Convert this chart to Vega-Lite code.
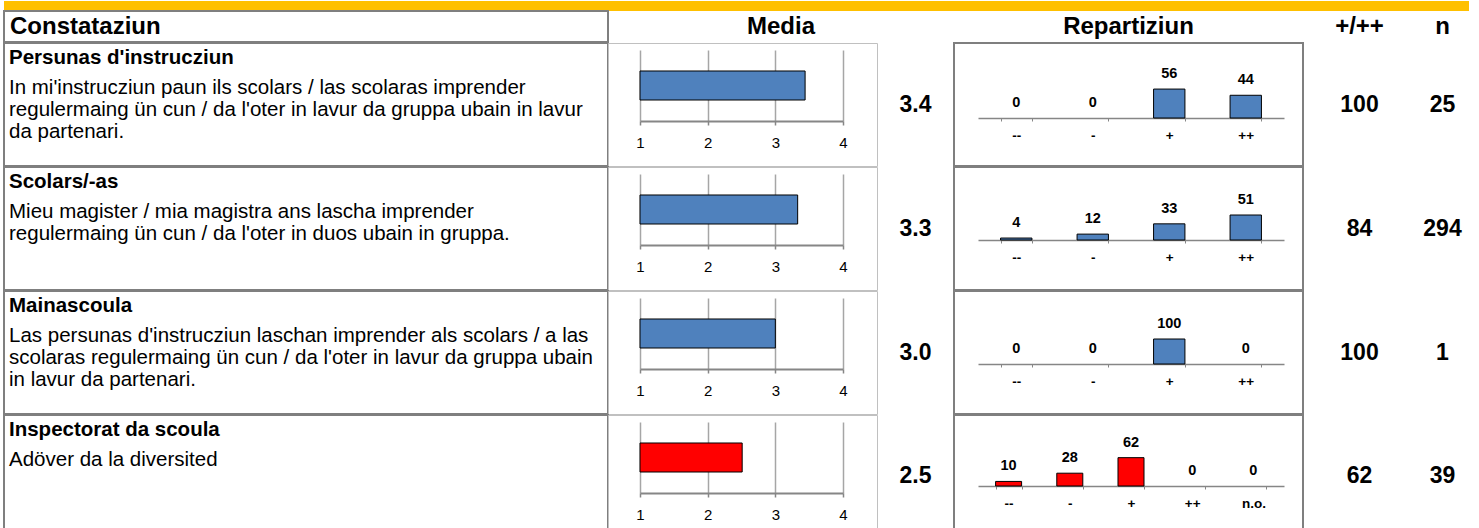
{
  "$schema": "https://vega.github.io/schema/vega-lite/v6.json",
  "padding": {"left": 3, "top": 0, "right": 0, "bottom": 0},
  "spacing": -2,
  "config": {
    "font": "Liberation Sans",
    "view": {"stroke": "#7F7F7F", "strokeWidth": 2},
    "text": {"font": "Liberation Sans", "color": "#000000"},
    "axis": {"labelFont": "Liberation Sans", "labelColor": "#000000", "title": null}
  },
  "datasets": {
    "headers": [
      {"col": "desc", "label": "Constataziun"},
      {"col": "media", "label": "Media"},
      {"col": "dist", "label": "Repartiziun"},
      {"col": "pos", "label": "+/++"},
      {"col": "n", "label": "n"}
    ],
    "lines": [
      {"row": 1, "line": 0, "text": "Persunas d'instrucziun"},
      {"row": 1, "line": 1, "text": "In mi'instrucziun paun ils scolars / las scolaras imprender"},
      {"row": 1, "line": 2, "text": "regulermaing ün cun / da l'oter in lavur da gruppa ubain in lavur"},
      {"row": 1, "line": 3, "text": "da partenari."},
      {"row": 2, "line": 0, "text": "Scolars/-as"},
      {"row": 2, "line": 1, "text": "Mieu magister / mia magistra ans lascha imprender"},
      {"row": 2, "line": 2, "text": "regulermaing ün cun / da l'oter in duos ubain in gruppa."},
      {"row": 3, "line": 0, "text": "Mainascoula"},
      {"row": 3, "line": 1, "text": "Las persunas d'instrucziun laschan imprender als scolars / a las"},
      {"row": 3, "line": 2, "text": "scolaras regulermaing ün cun / da l'oter in lavur da gruppa ubain"},
      {"row": 3, "line": 3, "text": "in lavur da partenari."},
      {"row": 4, "line": 0, "text": "Inspectorat da scoula"},
      {"row": 4, "line": 1, "text": "Adöver da la diversited"}
    ],
    "rows": [
      {"row": 1, "group": "Persunas d'instrucziun", "mean": 3.44, "pos": 100, "n": 25},
      {"row": 2, "group": "Scolars/-as", "mean": 3.33, "pos": 84, "n": 294},
      {"row": 3, "group": "Mainascoula", "mean": 3.0, "pos": 100, "n": 1},
      {"row": 4, "group": "Inspectorat da scoula", "mean": 2.51, "pos": 62, "n": 39}
    ],
    "dist": [
      {"row": 1, "cat": "--", "pct": 0},
      {"row": 1, "cat": "-", "pct": 0},
      {"row": 1, "cat": "+", "pct": 56},
      {"row": 1, "cat": "++", "pct": 44},
      {"row": 2, "cat": "--", "pct": 4},
      {"row": 2, "cat": "-", "pct": 12},
      {"row": 2, "cat": "+", "pct": 33},
      {"row": 2, "cat": "++", "pct": 51},
      {"row": 3, "cat": "--", "pct": 0},
      {"row": 3, "cat": "-", "pct": 0},
      {"row": 3, "cat": "+", "pct": 100},
      {"row": 3, "cat": "++", "pct": 0},
      {"row": 4, "cat": "--", "pct": 10},
      {"row": 4, "cat": "-", "pct": 28},
      {"row": 4, "cat": "+", "pct": 62},
      {"row": 4, "cat": "++", "pct": 0},
      {"row": 4, "cat": "n.o.", "pct": 0}
    ]
  },
  "vconcat": [
    {
      "width": 1465, "height": 10,
      "view": {"fill": "#FFC000", "stroke": null},
      "data": {"values": [{}]},
      "mark": {"type": "text"},
      "encoding": {"text": {"value": ""}}
    },
    {
      "bounds": "flush", "spacing": 0,
      "hconcat": [
        {"width": 604, "height": 31, "data": {"name": "headers"}, "transform": [{"filter": "datum.col == 'desc'"}],
         "mark": {"type": "text", "align": "left", "baseline": "middle", "dx": 6, "fontSize": 24, "fontWeight": "bold"},
         "encoding": {"x": {"value": 0}, "text": {"field": "label"}}},
        {"width": 346, "height": 31, "data": {"name": "headers"}, "transform": [{"filter": "datum.col == 'media'"}],
         "mark": {"type": "text", "baseline": "middle", "fontSize": 24, "fontWeight": "bold"},
         "encoding": {"text": {"field": "label"}}},
        {"width": 349, "height": 31, "data": {"name": "headers"}, "transform": [{"filter": "datum.col == 'dist'"}],
         "mark": {"type": "text", "baseline": "middle", "fontSize": 24, "fontWeight": "bold"},
         "encoding": {"text": {"field": "label"}}},
        {"width": 113, "height": 31, "data": {"name": "headers"}, "transform": [{"filter": "datum.col == 'pos'"}],
         "mark": {"type": "text", "baseline": "middle", "fontSize": 24, "fontWeight": "bold"},
         "encoding": {"text": {"field": "label"}}},
        {"width": 53, "height": 31, "data": {"name": "headers"}, "transform": [{"filter": "datum.col == 'n'"}],
         "mark": {"type": "text", "baseline": "middle", "fontSize": 24, "fontWeight": "bold"},
         "encoding": {"text": {"field": "label"}}}
      ]
    },
    {
      "bounds": "flush", "spacing": 0,
      "hconcat": [
        {"width": 604, "height": 123, "data": {"name": "lines"}, "transform": [{"filter": "datum.row == 1"}],
         "layer": [
           {"transform": [{"filter": "datum.line == 0"}],
            "mark": {"type": "text", "align": "left", "baseline": "middle", "dx": 5, "fontSize": 20.5, "fontWeight": "bold"},
            "encoding": {"x": {"value": 0}, "y": {"value": 15}, "text": {"field": "text"}}},
           {"transform": [{"filter": "datum.line > 0"}],
            "mark": {"type": "text", "align": "left", "baseline": "middle", "dx": 5, "fontSize": 20.5},
            "encoding": {"x": {"value": 0}, "y": {"field": "line", "type": "ordinal", "scale": {"type": "point", "domain": [1, 2, 3], "range": [45, 89], "padding": 0}, "axis": null}, "text": {"field": "text"}}}
         ]},
        {"width": 269, "height": 123, "view": {"stroke": "#C0C0C0", "strokeWidth": 1, "fill": "#FFFFFF"},
         "data": {"name": "rows"}, "transform": [{"filter": "datum.row == 1"}],
         "mark": {"type": "bar", "stroke": "#000000", "strokeWidth": 1},
         "encoding": {
           "x": {"field": "mean", "type": "quantitative", "scale": {"domain": [1, 4], "range": [32, 235], "zero": false, "nice": false},
                 "axis": {"orient": "top", "values": [1, 2, 3, 4], "format": "d", "offset": -78, "grid": true, "gridColor": "#A6A6A6", "gridWidth": 1.5, "domainColor": "#868686", "domainWidth": 2, "tickColor": "#868686", "tickWidth": 1.5, "tickSize": -4, "labelFontSize": 15, "labelBaseline": "middle", "labelPadding": -17, "labelFlush": false}},
           "x2": {"datum": 1},
           "y": {"field": "group", "type": "nominal", "scale": {"range": [7, 78], "paddingInner": 0, "paddingOuter": 0.724}, "axis": null},
           "color": {"field": "row", "type": "nominal", "scale": {"domain": [1, 2, 3, 4], "range": ["#4F81BD", "#4F81BD", "#4F81BD", "#FF0000"]}, "legend": null}
         }},
        {"width": 77, "height": 123, "data": {"name": "rows"}, "transform": [{"filter": "datum.row == 1"}],
         "mark": {"type": "text", "baseline": "middle", "fontSize": 23, "fontWeight": "bold"},
         "encoding": {"text": {"field": "mean", "type": "quantitative", "format": ".1f"}}},
        {"width": 349, "height": 123, "data": {"name": "dist"}, "transform": [{"filter": "datum.row == 1"}],
         "encoding": {
           "x": {"field": "cat", "type": "nominal", "scale": {"domain": ["--", "-", "+", "++"], "range": [24, 330], "paddingInner": 0.59, "paddingOuter": 0.295},
                 "axis": {"offset": -48, "labelAngle": 0, "domainColor": "#868686", "domainWidth": 1.5, "tickColor": "#868686", "tickSize": 3, "tickBand": "extent", "labelFontSize": 13.5, "labelFontWeight": "bold", "labelBaseline": "middle", "labelPadding": 14}},
           "y": {"field": "pct", "type": "quantitative", "scale": {"domain": [0, 60], "range": [75, 44], "nice": false}, "axis": null}
         },
         "layer": [
           {"transform": [{"filter": "datum.pct > 0"}], "mark": {"type": "bar", "stroke": "#000000", "strokeWidth": 1},
            "encoding": {"color": {"field": "row", "type": "nominal", "scale": {"domain": [1, 2, 3, 4], "range": ["#4F81BD", "#4F81BD", "#4F81BD", "#FF0000"]}, "legend": null}}},
           {"mark": {"type": "text", "baseline": "middle", "dy": -15, "fontSize": 14.5, "fontWeight": "bold"},
            "encoding": {"text": {"field": "pct", "type": "quantitative"}}}
         ]},
        {"width": 113, "height": 123, "data": {"name": "rows"}, "transform": [{"filter": "datum.row == 1"}],
         "mark": {"type": "text", "baseline": "middle", "fontSize": 23, "fontWeight": "bold"},
         "encoding": {"text": {"field": "pos", "type": "quantitative"}}},
        {"width": 53, "height": 123, "data": {"name": "rows"}, "transform": [{"filter": "datum.row == 1"}],
         "mark": {"type": "text", "baseline": "middle", "fontSize": 23, "fontWeight": "bold"},
         "encoding": {"text": {"field": "n", "type": "quantitative"}}}
      ]
    },
    {
      "bounds": "flush", "spacing": 0,
      "hconcat": [
        {"width": 604, "height": 123, "data": {"name": "lines"}, "transform": [{"filter": "datum.row == 2"}],
         "layer": [
           {"transform": [{"filter": "datum.line == 0"}],
            "mark": {"type": "text", "align": "left", "baseline": "middle", "dx": 5, "fontSize": 20.5, "fontWeight": "bold"},
            "encoding": {"x": {"value": 0}, "y": {"value": 15}, "text": {"field": "text"}}},
           {"transform": [{"filter": "datum.line > 0"}],
            "mark": {"type": "text", "align": "left", "baseline": "middle", "dx": 5, "fontSize": 20.5},
            "encoding": {"x": {"value": 0}, "y": {"field": "line", "type": "ordinal", "scale": {"type": "point", "domain": [1, 2, 3], "range": [45, 89], "padding": 0}, "axis": null}, "text": {"field": "text"}}}
         ]},
        {"width": 269, "height": 123, "view": {"stroke": "#C0C0C0", "strokeWidth": 1, "fill": "#FFFFFF"},
         "data": {"name": "rows"}, "transform": [{"filter": "datum.row == 2"}],
         "mark": {"type": "bar", "stroke": "#000000", "strokeWidth": 1},
         "encoding": {
           "x": {"field": "mean", "type": "quantitative", "scale": {"domain": [1, 4], "range": [32, 235], "zero": false, "nice": false},
                 "axis": {"orient": "top", "values": [1, 2, 3, 4], "format": "d", "offset": -78, "grid": true, "gridColor": "#A6A6A6", "gridWidth": 1.5, "domainColor": "#868686", "domainWidth": 2, "tickColor": "#868686", "tickWidth": 1.5, "tickSize": -4, "labelFontSize": 15, "labelBaseline": "middle", "labelPadding": -17, "labelFlush": false}},
           "x2": {"datum": 1},
           "y": {"field": "group", "type": "nominal", "scale": {"range": [7, 78], "paddingInner": 0, "paddingOuter": 0.724}, "axis": null},
           "color": {"field": "row", "type": "nominal", "scale": {"domain": [1, 2, 3, 4], "range": ["#4F81BD", "#4F81BD", "#4F81BD", "#FF0000"]}, "legend": null}
         }},
        {"width": 77, "height": 123, "data": {"name": "rows"}, "transform": [{"filter": "datum.row == 2"}],
         "mark": {"type": "text", "baseline": "middle", "fontSize": 23, "fontWeight": "bold"},
         "encoding": {"text": {"field": "mean", "type": "quantitative", "format": ".1f"}}},
        {"width": 349, "height": 123, "data": {"name": "dist"}, "transform": [{"filter": "datum.row == 2"}],
         "encoding": {
           "x": {"field": "cat", "type": "nominal", "scale": {"domain": ["--", "-", "+", "++"], "range": [24, 330], "paddingInner": 0.59, "paddingOuter": 0.295},
                 "axis": {"offset": -50, "labelAngle": 0, "domainColor": "#868686", "domainWidth": 1.5, "tickColor": "#868686", "tickSize": 3, "tickBand": "extent", "labelFontSize": 13.5, "labelFontWeight": "bold", "labelBaseline": "middle", "labelPadding": 14}},
           "y": {"field": "pct", "type": "quantitative", "scale": {"domain": [0, 60], "range": [73, 43.6], "nice": false}, "axis": null}
         },
         "layer": [
           {"transform": [{"filter": "datum.pct > 0"}], "mark": {"type": "bar", "stroke": "#000000", "strokeWidth": 1},
            "encoding": {"color": {"field": "row", "type": "nominal", "scale": {"domain": [1, 2, 3, 4], "range": ["#4F81BD", "#4F81BD", "#4F81BD", "#FF0000"]}, "legend": null}}},
           {"mark": {"type": "text", "baseline": "middle", "dy": -15, "fontSize": 14.5, "fontWeight": "bold"},
            "encoding": {"text": {"field": "pct", "type": "quantitative"}}}
         ]},
        {"width": 113, "height": 123, "data": {"name": "rows"}, "transform": [{"filter": "datum.row == 2"}],
         "mark": {"type": "text", "baseline": "middle", "fontSize": 23, "fontWeight": "bold"},
         "encoding": {"text": {"field": "pos", "type": "quantitative"}}},
        {"width": 53, "height": 123, "data": {"name": "rows"}, "transform": [{"filter": "datum.row == 2"}],
         "mark": {"type": "text", "baseline": "middle", "fontSize": 23, "fontWeight": "bold"},
         "encoding": {"text": {"field": "n", "type": "quantitative"}}}
      ]
    },
    {
      "bounds": "flush", "spacing": 0,
      "hconcat": [
        {"width": 604, "height": 123, "data": {"name": "lines"}, "transform": [{"filter": "datum.row == 3"}],
         "layer": [
           {"transform": [{"filter": "datum.line == 0"}],
            "mark": {"type": "text", "align": "left", "baseline": "middle", "dx": 5, "fontSize": 20.5, "fontWeight": "bold"},
            "encoding": {"x": {"value": 0}, "y": {"value": 15}, "text": {"field": "text"}}},
           {"transform": [{"filter": "datum.line > 0"}],
            "mark": {"type": "text", "align": "left", "baseline": "middle", "dx": 5, "fontSize": 20.5},
            "encoding": {"x": {"value": 0}, "y": {"field": "line", "type": "ordinal", "scale": {"type": "point", "domain": [1, 2, 3], "range": [45, 89], "padding": 0}, "axis": null}, "text": {"field": "text"}}}
         ]},
        {"width": 269, "height": 123, "view": {"stroke": "#C0C0C0", "strokeWidth": 1, "fill": "#FFFFFF"},
         "data": {"name": "rows"}, "transform": [{"filter": "datum.row == 3"}],
         "mark": {"type": "bar", "stroke": "#000000", "strokeWidth": 1},
         "encoding": {
           "x": {"field": "mean", "type": "quantitative", "scale": {"domain": [1, 4], "range": [32, 235], "zero": false, "nice": false},
                 "axis": {"orient": "top", "values": [1, 2, 3, 4], "format": "d", "offset": -78, "grid": true, "gridColor": "#A6A6A6", "gridWidth": 1.5, "domainColor": "#868686", "domainWidth": 2, "tickColor": "#868686", "tickWidth": 1.5, "tickSize": -4, "labelFontSize": 15, "labelBaseline": "middle", "labelPadding": -17, "labelFlush": false}},
           "x2": {"datum": 1},
           "y": {"field": "group", "type": "nominal", "scale": {"range": [7, 78], "paddingInner": 0, "paddingOuter": 0.724}, "axis": null},
           "color": {"field": "row", "type": "nominal", "scale": {"domain": [1, 2, 3, 4], "range": ["#4F81BD", "#4F81BD", "#4F81BD", "#FF0000"]}, "legend": null}
         }},
        {"width": 77, "height": 123, "data": {"name": "rows"}, "transform": [{"filter": "datum.row == 3"}],
         "mark": {"type": "text", "baseline": "middle", "fontSize": 23, "fontWeight": "bold"},
         "encoding": {"text": {"field": "mean", "type": "quantitative", "format": ".1f"}}},
        {"width": 349, "height": 123, "data": {"name": "dist"}, "transform": [{"filter": "datum.row == 3"}],
         "encoding": {
           "x": {"field": "cat", "type": "nominal", "scale": {"domain": ["--", "-", "+", "++"], "range": [24, 330], "paddingInner": 0.59, "paddingOuter": 0.295},
                 "axis": {"offset": -50, "labelAngle": 0, "domainColor": "#868686", "domainWidth": 1.5, "tickColor": "#868686", "tickSize": 3, "tickBand": "extent", "labelFontSize": 13.5, "labelFontWeight": "bold", "labelBaseline": "middle", "labelPadding": 14}},
           "y": {"field": "pct", "type": "quantitative", "scale": {"domain": [0, 120], "range": [73, 43], "nice": false}, "axis": null}
         },
         "layer": [
           {"transform": [{"filter": "datum.pct > 0"}], "mark": {"type": "bar", "stroke": "#000000", "strokeWidth": 1},
            "encoding": {"color": {"field": "row", "type": "nominal", "scale": {"domain": [1, 2, 3, 4], "range": ["#4F81BD", "#4F81BD", "#4F81BD", "#FF0000"]}, "legend": null}}},
           {"mark": {"type": "text", "baseline": "middle", "dy": -15, "fontSize": 14.5, "fontWeight": "bold"},
            "encoding": {"text": {"field": "pct", "type": "quantitative"}}}
         ]},
        {"width": 113, "height": 123, "data": {"name": "rows"}, "transform": [{"filter": "datum.row == 3"}],
         "mark": {"type": "text", "baseline": "middle", "fontSize": 23, "fontWeight": "bold"},
         "encoding": {"text": {"field": "pos", "type": "quantitative"}}},
        {"width": 53, "height": 123, "data": {"name": "rows"}, "transform": [{"filter": "datum.row == 3"}],
         "mark": {"type": "text", "baseline": "middle", "fontSize": 23, "fontWeight": "bold"},
         "encoding": {"text": {"field": "n", "type": "quantitative"}}}
      ]
    },
    {
      "bounds": "flush", "spacing": 0,
      "hconcat": [
        {"width": 604, "height": 118, "data": {"name": "lines"}, "transform": [{"filter": "datum.row == 4"}],
         "layer": [
           {"transform": [{"filter": "datum.line == 0"}],
            "mark": {"type": "text", "align": "left", "baseline": "middle", "dx": 5, "fontSize": 20.5, "fontWeight": "bold"},
            "encoding": {"x": {"value": 0}, "y": {"value": 15}, "text": {"field": "text"}}},
           {"transform": [{"filter": "datum.line > 0"}],
            "mark": {"type": "text", "align": "left", "baseline": "middle", "dx": 5, "fontSize": 20.5},
            "encoding": {"x": {"value": 0}, "y": {"field": "line", "type": "ordinal", "scale": {"type": "point", "domain": [1, 2, 3], "range": [45, 89], "padding": 0}, "axis": null}, "text": {"field": "text"}}}
         ]},
        {"width": 269, "height": 118, "view": {"stroke": "#C0C0C0", "strokeWidth": 1, "fill": "#FFFFFF"},
         "data": {"name": "rows"}, "transform": [{"filter": "datum.row == 4"}],
         "mark": {"type": "bar", "stroke": "#000000", "strokeWidth": 1},
         "encoding": {
           "x": {"field": "mean", "type": "quantitative", "scale": {"domain": [1, 4], "range": [32, 235], "zero": false, "nice": false},
                 "axis": {"orient": "top", "values": [1, 2, 3, 4], "format": "d", "offset": -78, "grid": true, "gridColor": "#A6A6A6", "gridWidth": 1.5, "domainColor": "#868686", "domainWidth": 2, "tickColor": "#868686", "tickWidth": 1.5, "tickSize": -4, "labelFontSize": 15, "labelBaseline": "middle", "labelPadding": -17, "labelFlush": false}},
           "x2": {"datum": 1},
           "y": {"field": "group", "type": "nominal", "scale": {"range": [7, 78], "paddingInner": 0, "paddingOuter": 0.724}, "axis": null},
           "color": {"field": "row", "type": "nominal", "scale": {"domain": [1, 2, 3, 4], "range": ["#4F81BD", "#4F81BD", "#4F81BD", "#FF0000"]}, "legend": null}
         }},
        {"width": 77, "height": 118, "data": {"name": "rows"}, "transform": [{"filter": "datum.row == 4"}],
         "mark": {"type": "text", "baseline": "middle", "dy": 2, "fontSize": 23, "fontWeight": "bold"},
         "encoding": {"text": {"field": "mean", "type": "quantitative", "format": ".1f"}}},
        {"width": 349, "height": 118, "data": {"name": "dist"}, "transform": [{"filter": "datum.row == 4"}],
         "encoding": {
           "x": {"field": "cat", "type": "nominal", "scale": {"domain": ["--", "-", "+", "++", "n.o."], "range": [24, 330], "paddingInner": 0.575, "paddingOuter": 0.2875},
                 "axis": {"offset": -47, "labelAngle": 0, "domainColor": "#868686", "domainWidth": 1.5, "tickColor": "#868686", "tickSize": 3, "tickBand": "extent", "labelFontSize": 13.5, "labelFontWeight": "bold", "labelBaseline": "middle", "labelPadding": 14}},
           "y": {"field": "pct", "type": "quantitative", "scale": {"domain": [0, 70], "range": [71, 39], "nice": false}, "axis": null}
         },
         "layer": [
           {"transform": [{"filter": "datum.pct > 0"}], "mark": {"type": "bar", "stroke": "#000000", "strokeWidth": 1},
            "encoding": {"color": {"field": "row", "type": "nominal", "scale": {"domain": [1, 2, 3, 4], "range": ["#4F81BD", "#4F81BD", "#4F81BD", "#FF0000"]}, "legend": null}}},
           {"mark": {"type": "text", "baseline": "middle", "dy": -15, "fontSize": 14.5, "fontWeight": "bold"},
            "encoding": {"text": {"field": "pct", "type": "quantitative"}}}
         ]},
        {"width": 113, "height": 118, "data": {"name": "rows"}, "transform": [{"filter": "datum.row == 4"}],
         "mark": {"type": "text", "baseline": "middle", "dy": 2, "fontSize": 23, "fontWeight": "bold"},
         "encoding": {"text": {"field": "pos", "type": "quantitative"}}},
        {"width": 53, "height": 118, "data": {"name": "rows"}, "transform": [{"filter": "datum.row == 4"}],
         "mark": {"type": "text", "baseline": "middle", "dy": 2, "fontSize": 23, "fontWeight": "bold"},
         "encoding": {"text": {"field": "n", "type": "quantitative"}}}
      ]
    }
  ]
}
